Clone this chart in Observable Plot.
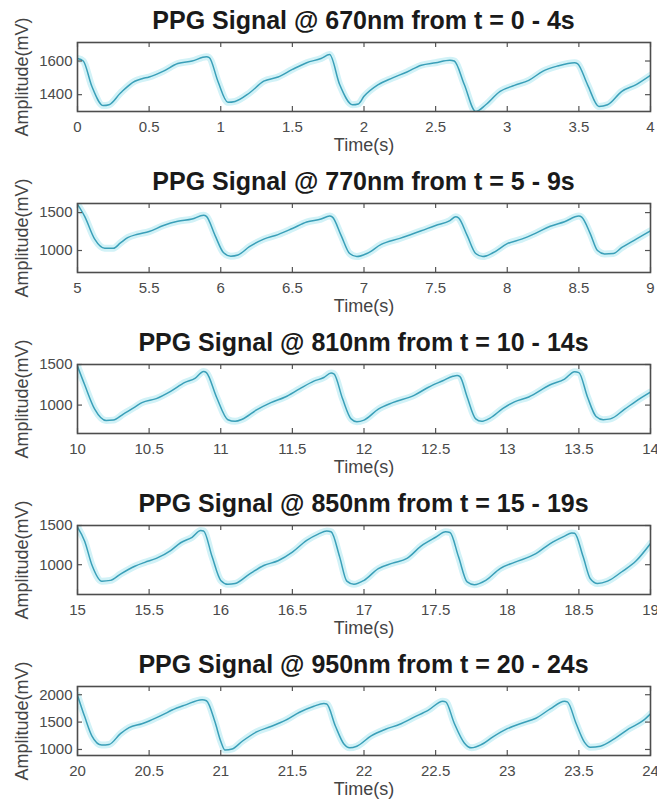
<!DOCTYPE html>
<html><head><meta charset="utf-8">
<script src="https://cdn.jsdelivr.net/npm/d3@7"></script>
<script src="https://cdn.jsdelivr.net/npm/@observablehq/plot@0.6"></script>
<style>
body{margin:0;background:#fff;font-family:"Liberation Sans",Arial,sans-serif;}
.panel{width:657px;height:161px;position:relative;overflow:visible}
.title{height:38px;line-height:40px;font-size:25px;font-weight:bold;color:#1a1a1a;text-align:center;padding-left:77px;padding-right:7px;box-sizing:border-box;white-space:nowrap}
svg{display:block;overflow:visible}
</style></head><body><div id="chart"></div>
<script>
const titles = [
  "PPG Signal @ 670nm from t = 0 - 4s",
  "PPG Signal @ 770nm from t = 5 - 9s",
  "PPG Signal @ 810nm from t = 10 - 14s",
  "PPG Signal @ 850nm from t = 15 - 19s",
  "PPG Signal @ 950nm from t = 20 - 24s"
];
const xLabel = "Time(s)";
const yLabel = "Amplitude(mV)";

// [time s, amplitude mV]
const s670 = [[0,1615],[0.04,1600],[0.1,1450],[0.18,1335],[0.22,1340],[0.3,1410],[0.4,1480],[0.45,1495],[0.5,1505],[0.6,1540],[0.7,1585],[0.8,1600],[0.9,1625],[0.92,1620],[0.98,1480],[1.05,1355],[1.1,1360],[1.2,1410],[1.3,1480],[1.4,1505],[1.5,1550],[1.6,1590],[1.7,1615],[1.76,1638],[1.83,1460],[1.92,1340],[1.96,1345],[2.0,1390],[2.1,1460],[2.2,1500],[2.3,1535],[2.4,1575],[2.5,1590],[2.6,1605],[2.63,1600],[2.7,1460],[2.78,1300],[2.85,1340],[2.95,1420],[3.05,1455],[3.15,1485],[3.25,1540],[3.35,1570],[3.47,1590],[3.49,1585],[3.56,1460],[3.64,1330],[3.7,1340],[3.8,1420],[3.9,1460],[4.0,1515]];
const s770 = [[5,1610],[5.05,1450],[5.12,1150],[5.19,1030],[5.25,1030],[5.3,1100],[5.35,1170],[5.42,1215],[5.5,1250],[5.6,1330],[5.7,1385],[5.8,1415],[5.88,1465],[5.9,1450],[5.96,1200],[6.02,970],[6.07,925],[6.12,940],[6.2,1050],[6.3,1150],[6.4,1210],[6.5,1290],[6.6,1375],[6.7,1415],[6.76,1455],[6.78,1440],[6.84,1200],[6.9,960],[6.95,920],[7.02,960],[7.12,1080],[7.25,1160],[7.4,1260],[7.5,1330],[7.6,1395],[7.64,1445],[7.66,1430],[7.72,1200],[7.78,960],[7.83,920],[7.9,970],[8.0,1090],[8.1,1150],[8.2,1230],[8.3,1320],[8.4,1380],[8.5,1455],[8.52,1440],[8.58,1220],[8.63,1000],[8.68,955],[8.74,960],[8.8,1040],[8.9,1150],[9.0,1260]];
const s810 = [[10,1480],[10.05,1250],[10.12,950],[10.2,810],[10.25,815],[10.32,890],[10.4,975],[10.45,1030],[10.55,1080],[10.65,1170],[10.75,1280],[10.82,1330],[10.88,1415],[10.9,1400],[10.97,1100],[11.05,820],[11.1,800],[11.15,825],[11.25,940],[11.35,1030],[11.45,1100],[11.55,1200],[11.65,1295],[11.72,1340],[11.77,1395],[11.79,1385],[11.85,1080],[11.91,830],[11.95,795],[12.0,815],[12.1,950],[12.2,1030],[12.35,1120],[12.45,1220],[12.55,1300],[12.62,1355],[12.65,1365],[12.67,1350],[12.72,1100],[12.78,830],[12.82,800],[12.88,840],[12.97,960],[13.05,1040],[13.15,1100],[13.3,1250],[13.4,1320],[13.47,1410],[13.5,1400],[13.56,1100],[13.62,860],[13.67,820],[13.72,830],[13.82,950],[13.9,1050],[14.0,1160]];
const s850 = [[15,1480],[15.05,1300],[15.1,1000],[15.17,790],[15.23,800],[15.3,880],[15.4,980],[15.47,1030],[15.55,1080],[15.65,1180],[15.72,1280],[15.8,1350],[15.86,1435],[15.88,1430],[15.94,1100],[16.0,800],[16.05,750],[16.1,760],[16.2,880],[16.3,990],[16.4,1050],[16.5,1160],[16.6,1310],[16.68,1390],[16.74,1430],[16.77,1420],[16.83,1100],[16.88,790],[16.93,750],[17.0,800],[17.1,950],[17.2,1020],[17.3,1080],[17.4,1240],[17.5,1350],[17.57,1420],[17.6,1410],[17.66,1100],[17.72,780],[17.77,745],[17.85,800],[17.95,950],[18.05,1030],[18.2,1140],[18.3,1270],[18.4,1365],[18.45,1405],[18.47,1400],[18.53,1100],[18.58,820],[18.63,760],[18.7,790],[18.8,910],[18.9,1050],[19.0,1270]];
const s950 = [[20,1990],[20.05,1600],[20.1,1250],[20.17,1080],[20.22,1090],[20.3,1290],[20.36,1400],[20.45,1470],[20.5,1520],[20.6,1640],[20.66,1720],[20.75,1810],[20.87,1910],[20.9,1890],[20.96,1500],[21.0,1150],[21.03,990],[21.08,1010],[21.15,1150],[21.25,1320],[21.35,1420],[21.45,1530],[21.55,1680],[21.65,1790],[21.72,1840],[21.74,1830],[21.8,1430],[21.86,1100],[21.9,1030],[21.95,1060],[22.05,1250],[22.15,1370],[22.25,1460],[22.35,1590],[22.45,1720],[22.55,1880],[22.57,1870],[22.63,1480],[22.7,1120],[22.75,1030],[22.82,1090],[22.9,1230],[23.0,1380],[23.1,1480],[23.2,1570],[23.3,1740],[23.4,1880],[23.42,1870],[23.48,1480],[23.54,1130],[23.58,1040],[23.65,1060],[23.75,1200],[23.85,1380],[23.95,1530],[24.0,1650]];

const xDomains = [[0,4],[5,9],[10,14],[15,19],[20,24]];
const yDomains = [[1300,1710],[710,1620],[650,1500],[620,1500],[890,2150]];
const xTicks = [
  [0,0.5,1,1.5,2,2.5,3,3.5,4],
  [5,5.5,6,6.5,7,7.5,8,8.5,9],
  [10,10.5,11,11.5,12,12.5,13,13.5,14],
  [15,15.5,16,16.5,17,17.5,18,18.5,19],
  [20,20.5,21,21.5,22,22.5,23,23.5,24]
];
const yTicks = [
  [1400,1600],
  [1000,1500],
  [1000,1500],
  [1000,1500],
  [1000,1500,2000]
];
const series = [s670, s770, s810, s850, s950];

const W = 657, H = 123, mt = 4, mb = 50, ml = 77, mr = 7;
const ph = H - mt - mb, pw = W - ml - mr;
const root = document.getElementById("chart");

series.forEach((s, i) => {
  const data = s.map(([t, v]) => ({t, v}));
  const div = document.createElement("div");
  div.className = "panel";
  const h = document.createElement("div");
  h.className = "title";
  h.textContent = titles[i];
  div.append(h);
  const plot = Plot.plot({
    width: W, height: H, marginTop: mt, marginBottom: mb, marginLeft: ml, marginRight: mr,
    style: {fontFamily: "'Liberation Sans', Arial, sans-serif", background: "white", overflow: "visible"},
    x: {domain: xDomains[i]},
    y: {domain: yDomains[i]},
    marks: [
      Plot.line(data, {x: "t", y: "v", stroke: "#d2f2f7", strokeWidth: 7, curve: "monotone-x", clip: true}),
      Plot.line(data, {x: "t", y: "v", stroke: "#3a9fb8", strokeWidth: 1.5, curve: "monotone-x", clip: true}),
      Plot.tickX(xTicks[i], {x: d => d, insetTop: ph - 5, stroke: "#555", strokeWidth: 1.2}),
      Plot.tickX(xTicks[i], {x: d => d, insetBottom: ph - 5, stroke: "#555", strokeWidth: 1.2}),
      Plot.tickY(yTicks[i], {y: d => d, insetRight: pw - 5, stroke: "#555", strokeWidth: 1.2}),
      Plot.tickY(yTicks[i], {y: d => d, insetLeft: pw - 5, stroke: "#555", strokeWidth: 1.2}),
      Plot.axisX({ticks: xTicks[i], tickSize: 0, tickPadding: 10, fontSize: 15, tickFormat: d => String(d), label: null, color: "#4a4a4a"}),
      Plot.axisY({ticks: yTicks[i], tickSize: 0, tickPadding: 5, fontSize: 15, tickFormat: d => String(d), label: null, color: "#4a4a4a"}),
      Plot.frame({stroke: "#4d4d4d", strokeWidth: 1.6}),
      Plot.text([xLabel], {frameAnchor: "bottom", dy: 34, lineAnchor: "middle", textAnchor: "middle", fontSize: 18, fill: "#444"}),
      Plot.text([yLabel], {frameAnchor: "left", dx: -55, rotate: -90, textAnchor: "middle", lineAnchor: "middle", fontSize: 18, fill: "#444"})
    ]
  });
  div.append(plot);
  root.append(div);
});
</script>
</body></html>
